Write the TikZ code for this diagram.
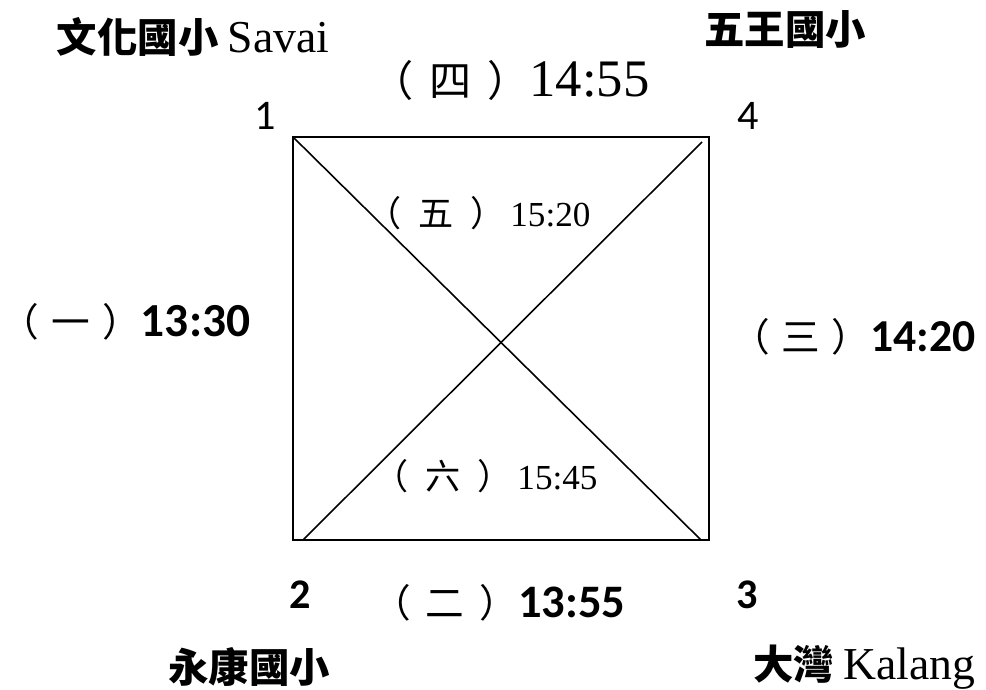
\documentclass[tikz,border=0pt]{standalone}
\usepackage{fontspec}
\setmainfont{Liberation Serif}
\newfontfamily\cjk{Noto Sans CJK TC}
\newfontfamily\calib{Carlito}
\newcommand\fsz[1]{\fontsize{#1}{#1}\selectfont}
\newcommand\paren[3]{{\cjk\fsz{#1}（\kern#2 #3\kern#2 ）}}
\usetikzlibrary{positioning}

\begin{document}
\begin{tikzpicture}[x=0.02cm,y=-0.02cm,
  place/.style={inner sep=0pt,font=\fsz{23}\cjk\bfseries},
  leg/.style={inner sep=0pt,anchor=west,font=\fsz{18}},
  corner/.style={inner sep=0pt,font=\fsz{24}\calib},
  edge/.style={line width=1pt},
  diag/.style={line width=0.9pt}]
\useasboundingbox (0,0) rectangle (986,689);
% square corners and diagonal ends
\coordinate (c1) at (293,137);
\coordinate (c2) at (293,540);
\coordinate (c3) at (709,540);
\coordinate (c4) at (709,137);
\coordinate (d3) at (701,540);
\coordinate (d2) at (303,540);
\coordinate (d4) at (702,142);
\draw[edge] (c1) -- (c2) -- (c3) -- (c4) -- cycle;
\draw[diag] (c1) -- (d3);
\draw[diag] (d2) -- (d4);
% corner numbers
\node[corner] (n1) at (265,116) {1};
\node[corner] (n4) at (748,116) {4};
\node[corner,font=\fsz{24}\calib\bfseries] (n2) at (300,595) {2};
\node[corner,font=\fsz{24}\calib\bfseries] (n3) at (747,595) {3};
% schools
\node[place] (savai) at (193,37) {文化國小 {\rmfamily\mdseries\fsz{26}Savai}};
\node[place] (wuwang) at (785,29) {五王國小};
\node[place] (yongkang) at (249,667) {永康國小};
\node[place] (kalang) at (864,667) {大灣 {\rmfamily\mdseries\fsz{26}Kalang}};
% legs
\node[leg] (leg1) at (0,322) {\paren{22}{7pt}{一}{\calib\bfseries\fsz{27}13:30}};
\node[leg] (leg2) at (372,603) {\paren{22}{8.5pt}{二}{\calib\bfseries\fsz{26.5}13:55}};
\node[leg] (leg3) at (731,337) {\paren{22}{6.5pt}{三}{\calib\bfseries\fsz{26}14:20}};
\node[leg] (leg4) at (371,80) {\paren{24}{9pt}{四}{\fsz{30}14:55}};
\node[leg] (leg5) at (366,213) {\paren{20}{9.5pt}{五}\kern3pt{\fsz{20}15:20}};
\node[leg] (leg6) at (373,476) {\paren{20}{9.5pt}{六}\kern3pt{\fsz{20}15:45}};
\end{tikzpicture}
\end{document}
